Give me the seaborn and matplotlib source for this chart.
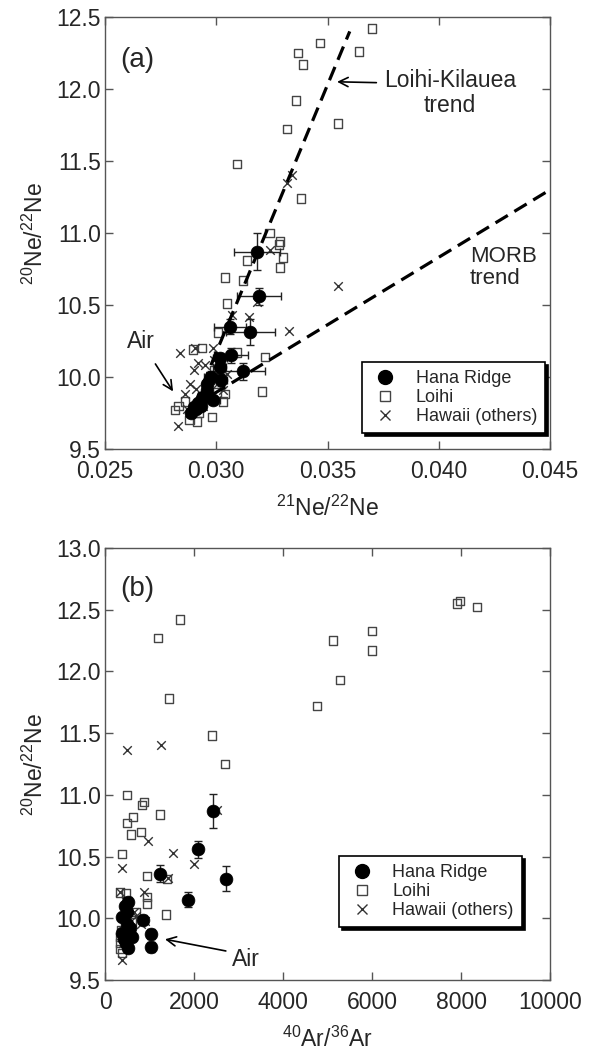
import numpy as np
import pandas as pd
import matplotlib
matplotlib.use("Agg")
import matplotlib.pyplot as plt
from matplotlib.lines import Line2D
import seaborn as sns

# ---- panel (a): 21Ne/22Ne vs 20Ne/22Ne ----
hana_a_x = [0.03183, 0.03192, 0.03062, 0.03152, 0.03066, 0.03120, 0.03017, 0.03015, 0.02975,
            0.03020, 0.02958, 0.02985, 0.02930, 0.02910, 0.02920, 0.02900, 0.02885, 0.02940, 0.02960]
hana_a_y = [10.87, 10.56, 10.35, 10.31, 10.15, 10.04, 10.13, 10.07, 10.00,
            9.98, 9.91, 9.84, 9.80, 9.78, 9.82, 9.79, 9.75, 9.86, 9.95]
hana_a_xerr = [0.00102, 0.0010, 0.0007, 0.0011, 0.00075, 0.0010, 0.0003, 0.0003, 0.0003,
               0.0003, 0.0002, 0.0003, 0.0002, 0.0002, 0.0002, 0.0002, 0.0002, 0.0002, 0.0002]
hana_a_yerr = [0.13, 0.06, 0.05, 0.09, 0.05, 0.06, 0.04, 0.04, 0.04,
               0.04, 0.03, 0.03, 0.03, 0.03, 0.03, 0.03, 0.03, 0.03, 0.03]

loihi_a_x = [0.0370, 0.03466, 0.03367, 0.0339, 0.03642, 0.03358, 0.03318, 0.03547, 0.03093, 0.03381,
             0.0324, 0.03287, 0.03283, 0.0330, 0.03287, 0.03138, 0.0304, 0.0312, 0.03047, 0.03008,
             0.02935, 0.02896, 0.03093, 0.03219, 0.03206, 0.0303, 0.02815, 0.02830, 0.02912, 0.0288,
             0.0304, 0.02950, 0.02920, 0.02990, 0.02860, 0.02980, 0.03000]
loihi_a_y = [12.42, 12.32, 12.25, 12.17, 12.26, 11.92, 11.72, 11.76, 11.48, 11.24,
             11.00, 10.94, 10.92, 10.83, 10.76, 10.81, 10.69, 10.67, 10.51, 10.31,
             10.20, 10.19, 10.17, 10.14, 9.90, 9.83, 9.77, 9.80, 9.69, 9.70,
             9.88, 9.85, 9.75, 10.05, 9.83, 9.72, 9.95]

hawaii_a_x = [0.0334, 0.0332, 0.0324, 0.03547, 0.03183, 0.03147, 0.03071, 0.03327, 0.02837, 0.02904,
              0.02985, 0.02828, 0.0303, 0.02880, 0.02900, 0.02920, 0.02950, 0.02970, 0.02860, 0.02990,
              0.03010, 0.02940, 0.02870, 0.02910, 0.03050]
hawaii_a_y = [11.40, 11.35, 10.88, 10.63, 10.52, 10.42, 10.43, 10.32, 10.17, 10.20,
              10.20, 9.66, 9.91, 9.95, 10.05, 10.10, 10.08, 9.98, 9.88, 10.12,
              9.96, 9.80, 9.78, 9.92, 10.02]

# trend lines (end points)
lk_trend_x = [0.0290, 0.0360]
lk_trend_y = [9.80, 12.40]
morb_trend_x = [0.0290, 0.0450]
morb_trend_y = [9.80, 11.30]

# ---- panel (b): 40Ar/36Ar vs 20Ne/22Ne ----
hana_b_x = [2427, 2090, 1236, 2719, 1865, 854, 1034, 1034, 517, 500,
            382, 500, 607, 461, 517, 382, 450, 560, 420]
hana_b_y = [10.87, 10.56, 10.36, 10.32, 10.15, 9.99, 9.87, 9.77, 10.13, 10.05,
            10.01, 9.95, 9.85, 9.80, 9.76, 9.88, 10.10, 9.92, 9.83]
hana_b_yerr = [0.14, 0.07, 0.07, 0.10, 0.06, 0.04, 0.04, 0.04, 0.04, 0.04,
               0.03, 0.03, 0.03, 0.03, 0.03, 0.03, 0.03, 0.03, 0.03]

loihi_b_x = [1191, 1685, 1438, 2404, 2697, 4764, 5281, 5124, 6000, 6000, 7910, 7978, 8360,
             494, 876, 830, 629, 494, 584, 809, 1236, 382, 944, 1393, 1371, 944, 944,
             337, 472, 330, 350, 340, 360, 380, 700, 600]
loihi_b_y = [12.27, 12.42, 11.78, 11.48, 11.25, 11.72, 11.93, 12.25, 12.33, 12.17, 12.55, 12.57, 12.52,
             11.00, 10.94, 10.92, 10.82, 10.77, 10.68, 10.70, 10.84, 10.52, 10.34, 10.32, 10.03, 10.17, 10.12,
             10.21, 10.20, 9.75, 9.80, 9.85, 9.90, 9.72, 10.05, 9.97]

hawaii_b_x = [494, 1258, 382, 966, 1528, 2000, 2517, 1416, 876, 382,
              337, 450, 700, 800, 550, 400, 650, 900, 480]
hawaii_b_y = [11.36, 11.40, 10.41, 10.63, 10.53, 10.44, 10.88, 10.33, 10.21, 9.66,
              10.21, 10.10, 10.02, 9.95, 9.90, 9.80, 10.05, 9.98, 10.15]

sns.set_style("ticks")
plt.rcParams['font.family'] = ['Liberation Sans', 'DejaVu Sans']
plt.rcParams['mathtext.default'] = 'regular'

FS = 16.5
sq_color = '#444444'
x_color = '#333333'
spine_color = '#555555'

fig = plt.figure(figsize=(5.91, 10.53), dpi=100)
ax_a = fig.add_axes([105 / 591, 1 - 449 / 1053, 445 / 591, 432 / 1053])
ax_b = fig.add_axes([105 / 591, 1 - 980 / 1053, 445 / 591, 432 / 1053])


def draw_groups(ax, lx, ly, hx, hy, nx, ny, xerr, yerr):
    sns.scatterplot(x=lx, y=ly, ax=ax, marker='s', s=36, facecolor='none',
                    edgecolor=sq_color, linewidth=1.0, zorder=3)
    sns.scatterplot(x=hx, y=hy, ax=ax, marker='x', s=38, color=x_color,
                    linewidth=1.0, zorder=3)
    ax.errorbar(nx, ny, xerr=xerr, yerr=yerr, fmt='none', ecolor='#222222',
                elinewidth=1.0, capsize=3, capthick=1.0, zorder=4)
    sns.scatterplot(x=nx, y=ny, ax=ax, marker='o', s=85, color='black',
                    edgecolor='black', linewidth=0.5, zorder=5)


def style_axes(ax):
    for sp in ax.spines.values():
        sp.set_color(spine_color)
        sp.set_linewidth(1.0)
    ax.tick_params(direction='in', top=True, right=True, length=6, width=1.0,
                   color=spine_color, labelsize=FS)
    ax.tick_params(axis='x', pad=8)
    ax.tick_params(axis='y', pad=3)
    ax.set_ylabel(r'$^{20}$Ne/$^{22}$Ne', fontsize=FS, labelpad=6)


def add_legend(ax, anchor):
    handles = [
        Line2D([], [], marker='o', ls='none', color='black', markersize=10),
        Line2D([], [], marker='s', ls='none', markerfacecolor='none',
               markeredgecolor=sq_color, markersize=6.5),
        Line2D([], [], marker='x', ls='none', color=x_color, markersize=7),
    ]
    leg = ax.legend(handles, ['Hana Ridge', 'Loihi', 'Hawaii (others)'],
                    loc='lower right', bbox_to_anchor=anchor, fontsize=13,
                    frameon=True, fancybox=False, shadow={'color': 'black', 'alpha': 1},
                    handlelength=1.6, handletextpad=0.9, labelspacing=0.1,
                    borderpad=0.45, borderaxespad=0.0)
    leg.get_frame().set_edgecolor('black')
    leg.get_frame().set_linewidth(1.2)
    leg.set_zorder(10)


dash = (0, (4.5, 2.4))

# panel (a)
draw_groups(ax_a, loihi_a_x, loihi_a_y, hawaii_a_x, hawaii_a_y,
            hana_a_x, hana_a_y, hana_a_xerr, hana_a_yerr)
ax_a.plot(lk_trend_x, lk_trend_y, color='black', ls=dash, lw=2.3, zorder=6)
ax_a.plot(morb_trend_x, morb_trend_y, color='black', ls=dash, lw=2.3, zorder=6)
ax_a.set_xlim(0.025, 0.045)
ax_a.set_ylim(9.5, 12.5)
ax_a.set_xticks([0.025, 0.030, 0.035, 0.040, 0.045])
ax_a.set_xticklabels(['0.025', '0.030', '0.035', '0.040', '0.045'])
ax_a.set_yticks([9.5, 10.0, 10.5, 11.0, 11.5, 12.0, 12.5])
ax_a.set_yticklabels(['9.5', '10.0', '10.5', '11.0', '11.5', '12.0', '12.5'])
style_axes(ax_a)
ax_a.set_xlabel(r'$^{21}$Ne/$^{22}$Ne', fontsize=FS, labelpad=9)
ax_a.text(0.0257, 12.2, '(a)', fontsize=20, va='center', ha='left')
ax_a.annotate('Loihi-Kilauea\ntrend', xy=(0.03543, 12.05), xytext=(0.0405, 11.97),
              fontsize=16.5, ha='center', va='center', linespacing=1.1,
              arrowprops=dict(arrowstyle='->', color='black', lw=1.2,
                              shrinkA=3, shrinkB=0, relpos=(0.0, 0.72)))
ax_a.text(0.0414, 10.76, 'MORB\ntrend', fontsize=16, ha='left', va='center', linespacing=1.1)
ax_a.annotate('Air', xy=(0.02806, 9.90), xytext=(0.0266, 10.25),
              fontsize=16.5, ha='center', va='center',
              arrowprops=dict(arrowstyle='->', color='black', lw=1.2,
                              shrinkA=7, shrinkB=0))
add_legend(ax_a, ((545 - 105) / 445, (449 - 433) / 432))

# panel (b)
draw_groups(ax_b, loihi_b_x, loihi_b_y, hawaii_b_x, hawaii_b_y,
            hana_b_x, hana_b_y, None, hana_b_yerr)
ax_b.set_xlim(0, 10000)
ax_b.set_ylim(9.5, 13.0)
ax_b.set_xticks([0, 2000, 4000, 6000, 8000, 10000])
ax_b.set_xticklabels(['0', '2000', '4000', '6000', '8000', '10000'])
ax_b.set_yticks([9.5, 10.0, 10.5, 11.0, 11.5, 12.0, 12.5, 13.0])
ax_b.set_yticklabels(['9.5', '10.0', '10.5', '11.0', '11.5', '12.0', '12.5', '13.0'])
style_axes(ax_b)
ax_b.set_xlabel(r'$^{40}$Ar/$^{36}$Ar', fontsize=FS, labelpad=9)
ax_b.text(337, 12.67, '(b)', fontsize=20, va='center', ha='left')
ax_b.annotate('Air', xy=(1348, 9.83), xytext=(2850, 9.67),
              fontsize=16.5, ha='left', va='center',
              arrowprops=dict(arrowstyle='->', color='black', lw=1.2,
                              shrinkA=2, shrinkB=0, relpos=(0.0, 0.8)))
add_legend(ax_b, ((522 - 105) / 445, (980 - 927) / 432))

fig.savefig('out.png', dpi=100)
